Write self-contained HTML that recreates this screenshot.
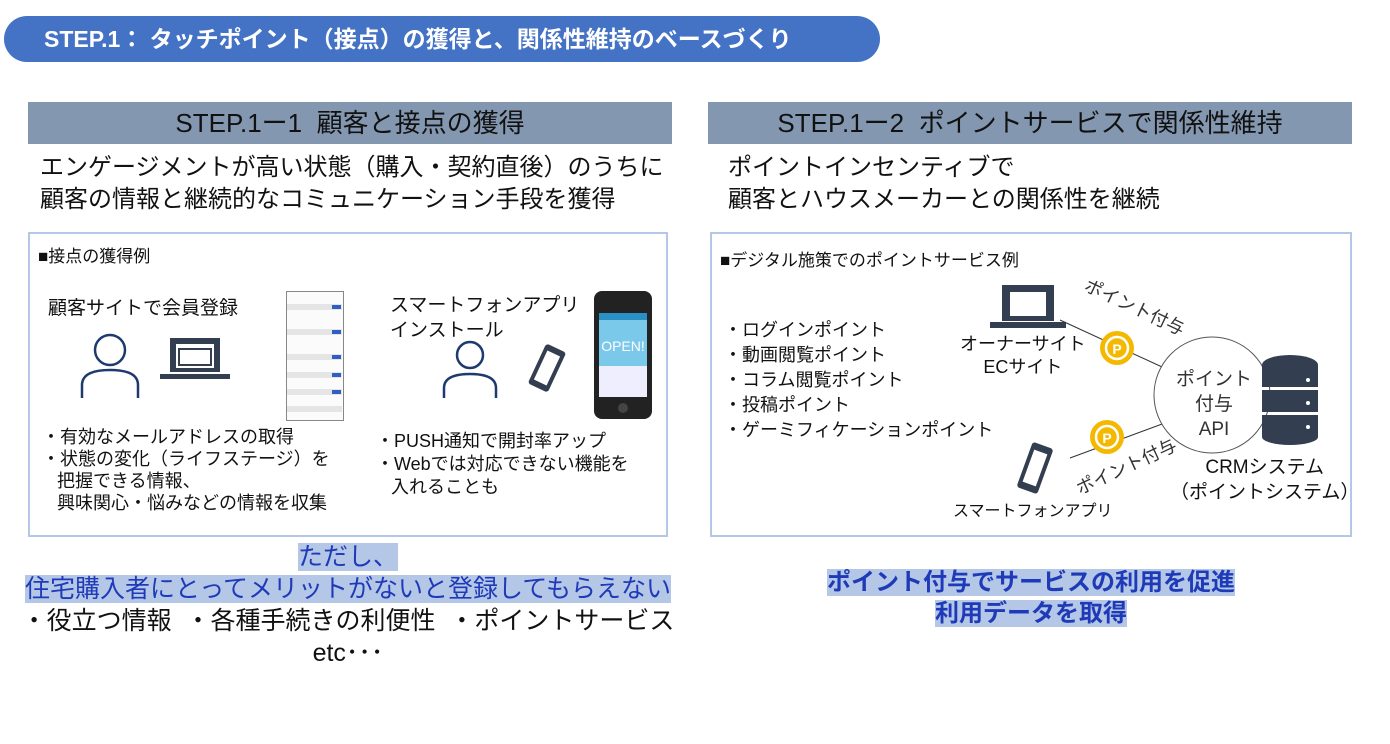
<!DOCTYPE html>
<html><head><meta charset="utf-8"><style>
body{margin:0;width:1390px;height:744px;background:#fff;position:relative;overflow:hidden;font-family:"Liberation Sans","Noto Sans CJK JP",sans-serif;color:#111}
.a{position:absolute;white-space:nowrap}
.hl{background:#b4c7e7;color:#1f3ab8}
</style></head><body>
<div class="a" style="left:4px;top:16px;width:876px;height:46px;border-radius:23px;background:#4472c4;color:#fff;font-size:23px;font-weight:bold;line-height:46px;padding-left:40px;box-sizing:border-box">STEP.1：&nbsp;タッチポイント（接点）の獲得と、関係性維持のベースづくり</div>

<div class="a" style="left:28px;top:102px;width:644px;height:42px;background:#8497b0;font-size:26px;line-height:42px;text-align:center;color:#111">STEP.1ー1&nbsp;&nbsp;顧客と接点の獲得</div>
<div class="a" style="left:708px;top:102px;width:644px;height:42px;background:#8497b0;font-size:26px;line-height:42px;text-align:center;color:#111">STEP.1ー2&nbsp;&nbsp;ポイントサービスで関係性維持</div>

<div class="a" style="left:40px;top:152px;font-size:24px;line-height:32px">エンゲージメントが高い状態（購入・契約直後）のうちに<br>顧客の情報と継続的なコミュニケーション手段を獲得</div>
<div class="a" style="left:728px;top:152px;font-size:24px;line-height:32px">ポイントインセンティブで<br>顧客とハウスメーカーとの関係性を継続</div>

<div class="a" style="left:28px;top:232px;width:640px;height:305px;border:2px solid #b4c7e7;box-sizing:border-box"></div>
<div class="a" style="left:710px;top:232px;width:642px;height:305px;border:2px solid #b4c7e7;box-sizing:border-box"></div>

<div class="a" style="left:38px;top:242px;font-size:17px">■接点の獲得例</div>
<div class="a" style="left:48px;top:293px;font-size:19px">顧客サイトで会員登録</div>
<svg class="a" style="left:70px;top:330px" width="200" height="70">
<circle cx="40" cy="20" r="15" fill="none" stroke="#1f3a6e" stroke-width="2.5"/>
<path d="M12 68 V55 Q12 40 40 40 Q68 40 68 55 V68" fill="none" stroke="#1f3a6e" stroke-width="2.5"/>
<rect x="100" y="8" width="50" height="34" fill="#333f50"/><rect x="106" y="14" width="38" height="24" fill="#fff"/><rect x="109" y="19" width="32" height="16" fill="none" stroke="#333f50" stroke-width="2"/>
<rect x="90" y="44" width="70" height="5" fill="#333f50"/>
</svg>
<div class="a" style="left:286px;top:291px;width:56px;height:128px;border:1px solid #888;background:#fbfbfb"></div>
<svg class="a" style="left:287px;top:292px" width="55" height="126"><g fill="#e5e5e5"><rect x="0" y="12" width="55" height="6"/><rect x="0" y="37" width="55" height="6"/><rect x="0" y="62" width="55" height="6"/><rect x="0" y="80" width="55" height="6"/><rect x="0" y="97" width="55" height="6"/><rect x="0" y="114" width="55" height="6"/></g><g fill="#2f5fc4"><rect x="45" y="13" width="9" height="4"/><rect x="45" y="38" width="9" height="4"/><rect x="45" y="63" width="9" height="4"/><rect x="45" y="81" width="9" height="4"/><rect x="45" y="98" width="9" height="4"/></g></svg>

<div class="a" style="left:390px;top:293px;font-size:19px;line-height:25px">スマートフォンアプリ<br>インストール</div>
<svg class="a" style="left:430px;top:338px" width="140" height="62">
<circle cx="40" cy="17" r="13" fill="none" stroke="#1f3a6e" stroke-width="2.5"/>
<path d="M14 60 V50 Q14 36 40 36 Q66 36 66 50 V60" fill="none" stroke="#1f3a6e" stroke-width="2.5"/>
<g transform="translate(117 30) rotate(25)"><rect x="-11" y="-22" width="22" height="44" rx="3" fill="#333f50"/><rect x="-7" y="-16" width="14" height="32" fill="#fff"/></g>
</svg>
<svg class="a" style="left:594px;top:291px" width="58" height="128">
<rect x="0" y="0" width="58" height="128" rx="8" fill="#222"/>
<rect x="5" y="22" width="48" height="84" fill="#7ac8ea"/>
<rect x="5" y="22" width="48" height="7" fill="#2a8fc4"/>
<text x="29" y="60" font-size="14" fill="#fff" text-anchor="middle" font-family="Liberation Sans">OPEN!</text>
<rect x="5" y="75" width="48" height="31" fill="#eef"/>
<circle cx="29" cy="117" r="5" fill="#444"/>
</svg>

<div class="a" style="left:42px;top:426px;font-size:18px;line-height:22px">・有効なメールアドレスの取得<br>・状態の変化（ライフステージ）を<br>&nbsp;&nbsp;&nbsp;把握できる情報、<br>&nbsp;&nbsp;&nbsp;興味関心・悩みなどの情報を収集</div>
<div class="a" style="left:376px;top:430px;font-size:18px;line-height:23px">・PUSH通知で開封率アップ<br>・Webでは対応できない機能を<br>&nbsp;&nbsp;&nbsp;入れることも</div>

<div class="a" style="left:720px;top:246px;font-size:17px">■デジタル施策でのポイントサービス例</div>
<div class="a" style="left:724px;top:318px;font-size:18px;line-height:25px">・ログインポイント<br>・動画閲覧ポイント<br>・コラム閲覧ポイント<br>・投稿ポイント<br>・ゲーミフィケーションポイント</div>

<svg class="a" style="left:940px;top:270px" width="420" height="260" font-family="Liberation Sans,Noto Sans CJK JP,sans-serif">
<rect x="62" y="15" width="52" height="36" fill="#333f50"/><rect x="70" y="22" width="36" height="24" fill="#fff"/>
<rect x="50" y="52" width="76" height="6" fill="#333f50"/>
<line x1="120" y1="50" x2="233" y2="102" stroke="#333" stroke-width="1"/>
<polyline points="224,93 233,102 221,103" fill="none" stroke="#333" stroke-width="1"/>
<line x1="130" y1="188" x2="233" y2="150" stroke="#333" stroke-width="1"/>
<polyline points="221,148 233,150 225,159" fill="none" stroke="#333" stroke-width="1"/>
<circle cx="272" cy="125" r="58" fill="#fff" stroke="#555" stroke-width="1"/>
<circle cx="177" cy="78" r="17" fill="#f5b800"/><circle cx="177" cy="78" r="11" fill="none" stroke="#fff" stroke-width="2.5"/><text x="177" y="84" font-size="14" font-weight="bold" fill="#fff" text-anchor="middle">P</text>
<circle cx="167" cy="167" r="17" fill="#f5b800"/><circle cx="167" cy="167" r="11" fill="none" stroke="#fff" stroke-width="2.5"/><text x="167" y="173" font-size="14" font-weight="bold" fill="#fff" text-anchor="middle">P</text>
<text x="274" y="115" font-size="19" fill="#333" text-anchor="middle">ポイント</text>
<text x="274" y="140" font-size="19" fill="#333" text-anchor="middle">付与</text>
<text x="274" y="165" font-size="19" fill="#333" text-anchor="middle">API</text>
<text x="0" y="0" font-size="18" fill="#333" transform="translate(143 20) rotate(25)">ポイント付与</text>
<text x="0" y="0" font-size="18" fill="#333" transform="translate(140 225) rotate(-25)">ポイント付与</text>
<g fill="#333f50"><ellipse cx="350" cy="95" rx="28" ry="10"/><rect x="322" y="95" width="56" height="22"/><rect x="322" y="120" width="56" height="22"/><rect x="322" y="145" width="56" height="22"/><ellipse cx="350" cy="167" rx="28" ry="8"/></g>
<g fill="#fff"><circle cx="368" cy="110" r="2"/><circle cx="368" cy="133" r="2"/><circle cx="368" cy="157" r="2"/></g>
<g transform="translate(95 198) rotate(20)"><rect x="-11" y="-24" width="22" height="48" rx="3" fill="#333f50"/><rect x="-7" y="-17" width="14" height="34" fill="#fff"/></g>
</svg>
<div class="a" style="left:960px;top:333px;font-size:18px;line-height:23px;text-align:center">オーナーサイト<br>ECサイト</div>
<div class="a" style="left:953px;top:497px;font-size:16px">スマートフォンアプリ</div>
<div class="a" style="left:1170px;top:455px;font-size:19px;line-height:25px;text-align:center">CRMシステム<br>（ポイントシステム）</div>

<div class="a" style="left:0;top:541px;width:696px;text-align:center;font-size:25px;line-height:32px"><span class="hl">ただし、</span><br><span class="hl">住宅購入者にとってメリットがないと登録してもらえない</span><br>・役立つ情報&nbsp;&nbsp;・各種手続きの利便性&nbsp;&nbsp;・ポイントサービス<br>etc･･･</div>
<div class="a" style="left:700px;top:567px;width:662px;text-align:center;font-size:24px;line-height:31px;font-weight:bold"><span class="hl">ポイント付与でサービスの利用を促進</span><br><span class="hl">利用データを取得</span></div>
</body></html>
